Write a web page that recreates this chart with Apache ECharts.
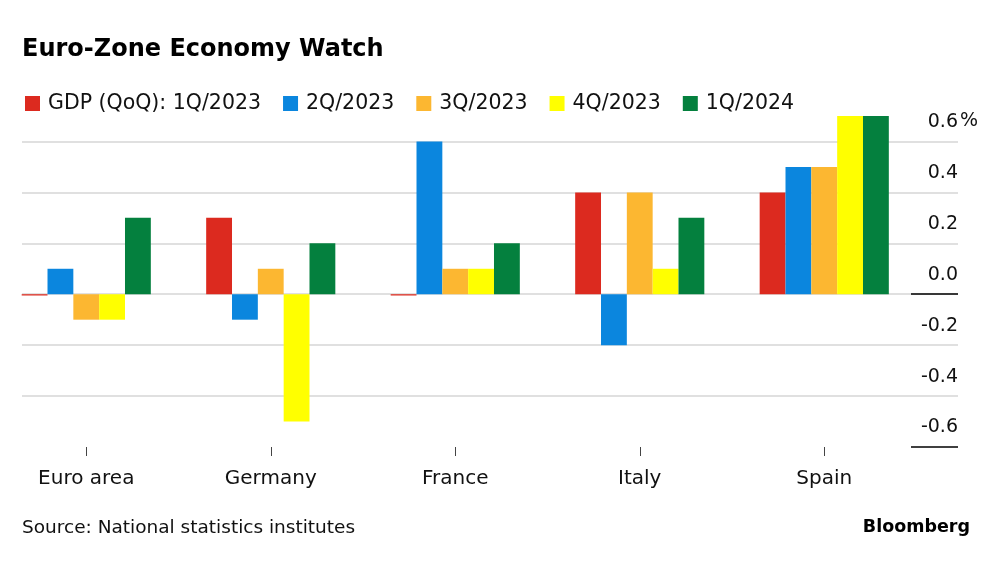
<!DOCTYPE html>
<html>
<head>
<meta charset="utf-8">
<script src="https://cdn.jsdelivr.net/npm/echarts@6/dist/echarts.min.js"></script>
<style>html,body{margin:0;padding:0;background:#fff;overflow:hidden}#c{width:1006px;height:562px;margin-left:-6px}</style>
</head>
<body>
<div id="c"></div>
<script>
const categories = ['Euro area', 'Germany', 'France', 'Italy', 'Spain'];
const seriesNames = ['GDP (QoQ): 1Q/2023', '2Q/2023', '3Q/2023', '4Q/2023', '1Q/2024'];
const gdp1Q2023 = [-0.005, 0.3, -0.005, 0.4, 0.4];
const gdp2Q2023 = [0.1, -0.1, 0.6, -0.2, 0.5];
const gdp3Q2023 = [-0.1, 0.1, 0.1, 0.4, 0.5];
const gdp4Q2023 = [-0.1, -0.5, 0.1, 0.1, 0.7];
const gdp1Q2024 = [0.3, 0.2, 0.2, 0.3, 0.7];
const yMin = -0.6, yMax = 0.7, yStep = 0.2;
const blackLines = [0, -0.6];

const colors = ['#dc2a1f', '#0b86de', '#fcb731', '#ffff00', '#04803e'];
const FONT = 'DejaVu Sans';
const seriesData = [gdp1Q2023, gdp2Q2023, gdp3Q2023, gdp4Q2023, gdp1Q2024];

// chart div is shifted 6px to the left, so "left" offsets are +6
const SHIFT = 6;
const TOP = 116, BOTTOM = 115;

const chart = echarts.init(document.getElementById('c'), null, {renderer: 'canvas'});
const barSeries = seriesNames.map((n, i) => ({
  name: n, type: 'bar', xAxisIndex: 0, yAxisIndex: 0,
  data: seriesData[i], barGap: '0%', barCategoryGap: '30%',
  itemStyle: {color: colors[i]}, silent: true, z: 3
}));

chart.setOption({
  animation: false,
  color: colors,
  textStyle: {fontFamily: FONT},
  legend: {
    left: 25 + SHIFT, top: 93, padding: 0, itemWidth: 15, itemHeight: 15, itemGap: 22,
    icon: 'rect', selectedMode: false,
    textStyle: {fontSize: 20.5, color: '#111', fontFamily: FONT, padding: [0, 0, 0, 3]},
    data: seriesNames
  },
  grid: [
    {left: 0, right: 83.5, top: TOP, bottom: BOTTOM},
    {left: 22 + SHIFT, right: 42, top: TOP, bottom: BOTTOM},
    {left: 911 + SHIFT, right: 42, top: TOP, bottom: BOTTOM}
  ],
  xAxis: [
    {type: 'category', gridIndex: 0, data: categories,
     axisLine: {show: false, onZero: false},
     axisTick: {show: true, alignWithLabel: true, length: 9, lineStyle: {color: '#444', width: 1}},
     axisLabel: {fontSize: 20, color: '#111', margin: 22, fontFamily: FONT}},
    {type: 'value', gridIndex: 1, show: false, min: 0, max: 1},
    {type: 'value', gridIndex: 2, show: false, min: 0, max: 1}
  ],
  yAxis: [
    {type: 'value', gridIndex: 0, min: yMin, max: yMax, interval: yStep, show: false},
    {type: 'value', gridIndex: 1, min: yMin, max: yMax, interval: yStep, position: 'right',
     axisLine: {show: false}, axisTick: {show: false},
     splitLine: {show: true, showMinLine: false, showMaxLine: false, lineStyle: {color: '#d6d6d6', width: 1.5}},
     axisLabel: {inside: true, showMaxLabel: false, fontSize: 19, color: '#111', fontFamily: FONT,
       align: 'right', verticalAlign: 'bottom', padding: [0, 0, 10, 0], margin: 0,
       formatter: v => (Math.abs(v) < 1e-9 ? 0 : v).toFixed(1)}},
    {type: 'value', gridIndex: 2, min: yMin, max: yMax, show: false}
  ],
  graphic: [
    {type: 'text', left: 22 + SHIFT, top: 38, style: {text: 'Euro-Zone Economy Watch', fontSize: 24, fontWeight: 'bold', fontFamily: FONT, fill: '#000'}},
    {type: 'text', left: 960 + SHIFT, top: 112, style: {text: '%', fontSize: 19, fontFamily: FONT, fill: '#111'}},
    {type: 'text', left: 22 + SHIFT, top: 519, style: {text: 'Source: National statistics institutes', fontSize: 18.5, fontFamily: FONT, fill: '#111'}},
    {type: 'text', right: 30, top: 518, style: {text: 'Bloomberg', fontSize: 17.5, fontWeight: 'bold', fontFamily: FONT, fill: '#000'}}
  ],
  series: barSeries.concat([
    {type: 'scatter', xAxisIndex: 1, yAxisIndex: 1, data: [], silent: true},
    {type: 'line', xAxisIndex: 2, yAxisIndex: 2, data: [[0, 0]], symbol: 'none', silent: true,
     lineStyle: {opacity: 0},
     markLine: {silent: true, symbol: ['none', 'none'], label: {show: false},
       lineStyle: {color: '#000', width: 1.5, type: 'solid'},
       data: blackLines.map(v => ({yAxis: v}))}}
  ])
});
</script>
</body>
</html>
